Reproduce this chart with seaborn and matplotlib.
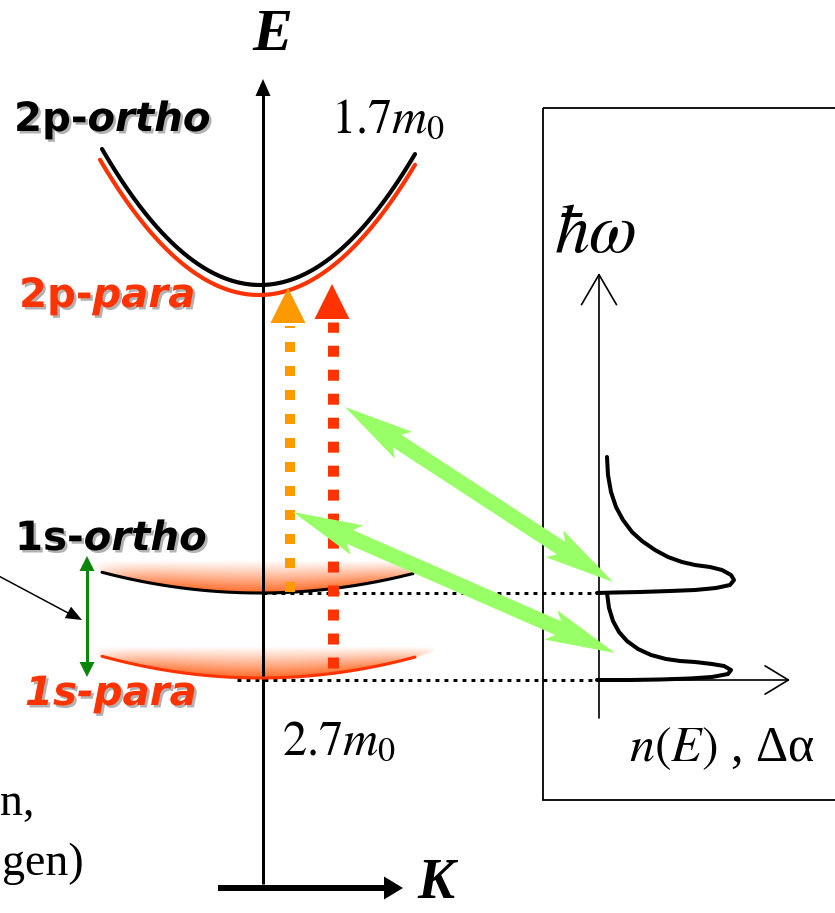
import numpy as np
import pandas as pd
import matplotlib
matplotlib.use("Agg")
import matplotlib.pyplot as plt
import matplotlib.patheffects as pe
from matplotlib.patches import Polygon, Rectangle
from matplotlib.patches import ArrowStyle
import seaborn as sns

# ---------------- data (schematic diagram, canvas pixel units, y downward) ----------------
band_names  = ["2p-para", "2p-ortho", "1s-ortho", "1s-para"]
band_colors = ["#FF3300", "#000000", "#000000", "#FF3300"]
band_E0     = [295, 285, 593, 678]            # band bottom position on the energy axis
band_K0     = [259, 260, 260, 260]            # K = 0 position
band_curv   = [0.00535, 0.00545, 0.00083, 0.00087]
band_Kmin   = [100, 102, 102, 102]
band_Kmax   = [415, 415, 413, 415]
band_lw     = [3.0, 3.0, 2.2, 2.2]

glow_bands  = ["1s-ortho", "1s-para"]
glow_top    = [560, 646]

# density of states n(E) curves
dos_up_x = [607, 608, 611, 616, 623, 632, 642, 655, 668, 682, 695, 710, 722, 731, 734, 730, 716, 695, 670, 640, 615, 597]
dos_up_y = [457, 475, 492, 507, 520, 532, 541, 550, 557, 562, 565, 567, 570, 575, 580, 585, 588, 590, 591, 592, 592.5, 593]
dos_lo_x = [607, 609, 613, 619, 627, 638, 651, 666, 680, 695, 712, 724, 731, 728, 712, 690, 660, 630, 597]
dos_lo_y = [593, 608, 621, 632, 641, 649, 655, 659, 661, 662, 664, 666, 670, 674, 677, 678.5, 679.5, 680, 680]

mass_labels = [r"$1.7m_0$", r"$2.7m_0$"]
ortho_color = "#000000"
para_color = "#FF3300"
orange = "#FF9900"
light_green = "#99FF66"
dark_green = "#0A870A"

# ---------------- figure ----------------
sns.set_theme(style="white")
plt.rcParams["font.family"] = ["DejaVu Sans"]
plt.rcParams["mathtext.fontset"] = "stix"
plt.rcParams["text.color"] = "black"

W, H = 835, 913
fig = plt.figure(figsize=(W / 100, H / 100), dpi=100)
ax = fig.add_axes([0, 0, 1, 1])
ax.set_xlim(0, W)
ax.set_ylim(H, 0)
ax.axis("off")

px = 0.72  # points per pixel


def head(tip, direction, length, width, color, z=5):
    d = np.array(direction, float)
    d /= np.linalg.norm(d)
    n = np.array([-d[1], d[0]])
    tip = np.array(tip, float)
    base = tip - d * length
    pts = [tip, base + n * width / 2, base - n * width / 2]
    ax.add_patch(Polygon(pts, closed=True, facecolor=color, edgecolor="none", zorder=z))


def double_arrow(p0, p1, shaft, hl, hw, color, z=6):
    p0 = np.array(p0, float)
    p1 = np.array(p1, float)
    d = (p1 - p0) / np.linalg.norm(p1 - p0)
    n = np.array([-d[1], d[0]])
    a = p0 + d * hl
    b = p1 - d * hl
    back = 8
    pts = [p0,
           a + d * back + n * hw / 2, a + n * shaft / 2,
           b + n * shaft / 2, b - d * back + n * hw / 2,
           p1,
           b - d * back - n * hw / 2, b - n * shaft / 2,
           a - n * shaft / 2, a + d * back - n * hw / 2]
    ax.add_patch(Polygon(pts, closed=True, facecolor=color, edgecolor="none", zorder=z))


# ---------- glows under the 1s bands ----------
for name, top in zip(glow_bands, glow_top):
    i = band_names.index(name)
    gx = np.linspace(92, 440, 348)
    gy = np.linspace(top - 4, band_E0[i] + 4, 120)
    X, Y = np.meshgrid(gx, gy)
    yc = band_E0[i] - band_curv[i] * (X - band_K0[i]) ** 2
    frac = (yc - Y) / np.maximum(yc - top, 1)
    a = np.where((frac >= 0) & (frac <= 1), (1 - np.clip(frac, 0, 1)) ** 1.1, 0)
    hfac = np.clip(1 - ((X - 265) / 172) ** 4, 0, 1)
    alpha = 0.97 * a * hfac
    rgba = np.zeros(X.shape + (4,))
    rgba[..., 0] = 1.0
    rgba[..., 1] = 0.40
    rgba[..., 2] = 0.13
    rgba[..., 3] = alpha
    ax.imshow(rgba, extent=(gx[0], gx[-1], gy[-1], gy[0]), origin="upper",
              aspect="auto", interpolation="bilinear", zorder=1)

# ---------- bands ----------
for i, name in enumerate(band_names):
    K = np.linspace(band_Kmin[i], band_Kmax[i], 300)
    E = band_E0[i] - band_curv[i] * (K - band_K0[i]) ** 2
    sns.lineplot(x=K, y=E, color=band_colors[i], linewidth=band_lw[i], sort=False,
                 estimator=None, ax=ax, zorder=4)

# ---------- axes E and K ----------
ax.plot([263, 263], [884, 94], color="black", lw=3 * px, zorder=3, solid_capstyle="butt")
head((263, 79), (0, -1), 17, 15, "black")
ax.plot([218, 386], [888, 888], color="black", lw=6 * px, zorder=3, solid_capstyle="butt")
head((403, 888), (1, 0), 19, 23, "black")

ax.text(252, 50, "E", fontsize=43, fontfamily="Liberation Serif", fontweight="bold",
        fontstyle="italic", color="black", ha="left", va="baseline")
ax.text(417, 898, "K", fontsize=40, fontfamily="Liberation Serif", fontweight="bold",
        fontstyle="italic", color="black", ha="left", va="baseline")

# ---------- dotted horizontal guides ----------
ax.plot([263, 600], [593, 593], color="black", lw=3 * px, linestyle=(0, (1.3, 1.7)),
        dash_capstyle="butt", zorder=3)
ax.plot([237, 600], [680, 680], color="black", lw=3 * px, linestyle=(0, (1.3, 1.7)),
        dash_capstyle="butt", zorder=3)

# ---------- dotted vertical transition arrows ----------
ax.plot([290, 290], [592, 326], color=orange, lw=10 * px, linestyle=(0, (1.0, 1.4)),
        dash_capstyle="butt", zorder=5)
head((288, 288), (0, -1), 35, 35, orange)
ax.plot([333, 333], [668, 322], color=para_color, lw=11 * px, linestyle=(0, (1.0, 1.18)),
        dash_capstyle="butt", zorder=5)
head((332, 284), (0, -1), 35, 35, para_color)

# ---------- light-green double arrows ----------
double_arrow((345, 407), (613, 582), 15, 62, 32, light_green)
double_arrow((293, 512), (615, 653), 15, 62, 32, light_green)

# ---------- dark-green splitting arrow & thin black pointer ----------
ax.plot([87, 87], [570, 663], color=dark_green, lw=3 * px, zorder=5, solid_capstyle="butt")
head((87, 556), (0, -1), 15, 15, dark_green)
head((87, 677), (0, 1), 15, 15, dark_green)
ax.plot([-5, 70], [574, 614], color="black", lw=1.5 * px, zorder=5)
head((82, 620), (78, 42), 16, 13, "black")

# ---------- labels with shadow ----------
shadow = [pe.withSimplePatchShadow(offset=(1.8, -1.8), shadow_rgbFace=(0.45, 0.45, 0.45), alpha=0.55)]
lab_fs = 29


def two_part(x, y, a, b, color, italic_a=False):
    t1 = ax.text(x, y, a, fontsize=lab_fs, fontweight="bold", color=color,
                 fontstyle="italic" if italic_a else "normal", ha="left", va="baseline",
                 path_effects=shadow, zorder=7)
    ax.annotate(b, xy=(1, y), xycoords=(t1, "data"), fontsize=lab_fs, fontweight="bold",
                color=color, fontstyle="italic", ha="left", va="baseline",
                path_effects=shadow, zorder=7)


two_part(14, 131, "2p-", "ortho", ortho_color)
two_part(19, 307, "2p-", "para", para_color)
two_part(15, 550, "1s-", "ortho", ortho_color)
two_part(25, 705, "1s-", "para", para_color, italic_a=True)

# ---------- effective masses ----------
ax.text(331, 132, mass_labels[0], fontsize=35, fontfamily="Liberation Serif",
        color="black", ha="left", va="baseline")
ax.text(282, 754, mass_labels[1], fontsize=35, fontfamily="Liberation Serif",
        color="black", ha="left", va="baseline")

# ---------- partially visible text on the left ----------
ax.text(0, 815, "n,", fontsize=33, fontfamily="Liberation Serif", color="black",
        ha="left", va="baseline")
ax.text(2, 875, "gen)", fontsize=33, fontfamily="Liberation Serif", color="black",
        ha="left", va="baseline")

# ---------- inset box: density of states ----------
ax.add_patch(Rectangle((543, 108), 400, 692, fill=False, edgecolor="black", lw=1.3, zorder=2))
ax.annotate("", xy=(599, 273), xytext=(599, 718),
            arrowprops=dict(arrowstyle=ArrowStyle("->", head_length=1.8, head_width=1.05),
                            lw=1.2, color="black", shrinkA=0, shrinkB=0), zorder=3)
ax.annotate("", xy=(790, 680), xytext=(598, 680),
            arrowprops=dict(arrowstyle=ArrowStyle("->", head_length=1.4, head_width=0.85),
                            lw=1.2, color="black", shrinkA=0, shrinkB=0), zorder=3)

sns.lineplot(x=dos_up_x, y=dos_up_y, color="black", linewidth=2.9, sort=False,
             estimator=None, ax=ax, zorder=4)
sns.lineplot(x=dos_lo_x, y=dos_lo_y, color="black", linewidth=2.9, sort=False,
             estimator=None, ax=ax, zorder=4)

ax.text(554, 252, r"$\hbar\omega$", fontsize=50, color="black", ha="left", va="baseline")
ax.text(629, 761, r"$n(E)$ , Δα", fontsize=36, fontfamily="Liberation Serif",
        color="black", ha="left", va="baseline")

ax.set_xlim(0, W)
ax.set_ylim(H, 0)
fig.savefig("out.png", dpi=100)
